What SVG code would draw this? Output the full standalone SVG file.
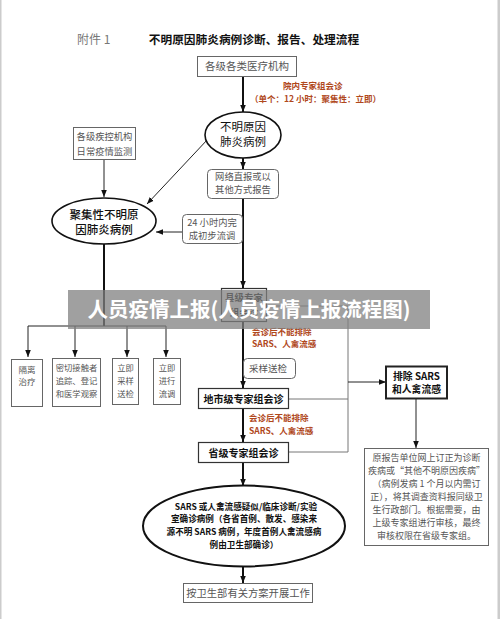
<svg xmlns="http://www.w3.org/2000/svg" width="500" height="619" viewBox="0 0 500 619">
<style>
.bx{fill:#fff;stroke:#666;stroke-width:1}
.bxb{fill:#fff;stroke:#333;stroke-width:1.2}
.el{fill:#fff;stroke:#111;stroke-width:1.6}
.g{font-family:"Noto Sans CJK SC","Noto Sans",sans-serif;fill:#555}
.k{font-family:"Noto Sans CJK SC","Noto Sans",sans-serif;fill:#111}
.kb{font-family:"Noto Sans CJK SC","Noto Sans",sans-serif;fill:#111;font-weight:bold}
.r{font-family:"Noto Sans CJK SC","Noto Sans",sans-serif;fill:#b0481c;font-weight:bold;font-size:8.5px}
.ov{font-family:"Noto Sans CJK SC","Noto Sans",sans-serif;fill:#fff;font-weight:bold}
.ln{stroke:#222;stroke-width:1;fill:none}
.lt{stroke:#111;stroke-width:2;fill:none}
.lg{stroke:#777;stroke-width:1;fill:none}
</style>
<defs>
<marker id="ah" viewBox="0 0 10 10" refX="10" refY="5" markerWidth="7" markerHeight="7" markerUnits="userSpaceOnUse" orient="auto">
<path d="M0,1 L10,5 L0,9 z" fill="#111"/>
</marker>
</defs>
<rect x="0" y="0" width="500" height="619" fill="#fff"/>
<rect x="0" y="0" width="1.5" height="619" fill="#ccc"/>
<rect x="497.5" y="0" width="2.5" height="619" fill="#ccc"/>

<g id="title">
<text x="77" y="43.5" class="g" font-size="12" style="fill:#777">附件 1</text>
<text x="254" y="43.5" class="kb" font-size="11.7" text-anchor="middle">不明原因肺炎病例诊断、报告、处理流程</text>
</g>

<g id="connectors">
<line class="lt" x1="243" y1="76" x2="243" y2="112" marker-end="url(#ah)"/>
<line class="lt" x1="243" y1="158" x2="243" y2="169" marker-end="url(#ah)"/>
<line class="ln" x1="104" y1="159" x2="104" y2="197" marker-end="url(#ah)"/>
<line class="ln" x1="208" y1="139" x2="147" y2="204" marker-end="url(#ah)"/>
<line class="ln" x1="182" y1="232" x2="156" y2="232" marker-end="url(#ah)"/>
<line class="lt" x1="243" y1="198" x2="243" y2="288" marker-end="url(#ah)"/>
<line class="lt" x1="104" y1="244" x2="104" y2="326"/>
<line class="ln" x1="28" y1="326" x2="166" y2="326" stroke-width="1.3"/>
<line class="ln" x1="28" y1="326" x2="28" y2="357" stroke-width="1.3" marker-end="url(#ah)"/>
<line class="ln" x1="75" y1="326" x2="75" y2="357" stroke-width="1.3" marker-end="url(#ah)"/>
<line class="ln" x1="127" y1="326" x2="127" y2="357" stroke-width="1.3" marker-end="url(#ah)"/>
<line class="ln" x1="166" y1="326" x2="166" y2="357" stroke-width="1.3" marker-end="url(#ah)"/>
<line class="lt" x1="243" y1="321" x2="243" y2="388" marker-end="url(#ah)"/>
<polyline class="lg" points="266,306 348,306 348,452 288,452"/>
<line class="lg" x1="288" y1="399" x2="348" y2="399"/>
<line class="ln" x1="348" y1="382" x2="386" y2="382" marker-end="url(#ah)"/>
<line class="ln" x1="416" y1="399" x2="416" y2="448" marker-end="url(#ah)"/>
<line class="lt" x1="243" y1="408" x2="243" y2="442" marker-end="url(#ah)"/>
<line class="lt" x1="243" y1="462" x2="243" y2="486" marker-end="url(#ah)"/>
<line class="lt" x1="243" y1="567" x2="243" y2="583" marker-end="url(#ah)"/>
</g>

<g id="n-hospitals">
<rect class="bx" x="197.5" y="56.5" width="99" height="20"/>
<text x="247" y="70" class="g" font-size="10.5" text-anchor="middle">各级各类医疗机构</text>
</g>

<g id="lbl-consult1">
<text x="283" y="89" class="r">院内专家组会诊</text>
<text x="250" y="102" class="r">（单个：12 小时：聚集性：立即）</text>
</g>

<g id="n-unknown">
<ellipse class="el" cx="243" cy="135" rx="38" ry="23"/>
<text x="243" y="131" class="k" font-size="11.5" text-anchor="middle">不明原因</text>
<text x="243" y="146" class="k" font-size="11.5" text-anchor="middle">肺炎病例</text>
</g>

<g id="n-cdc">
<rect class="bx" x="73.5" y="127.5" width="62" height="32"/>
<text x="104.5" y="139.5" class="g" font-size="9.3" text-anchor="middle">各级疾控机构</text>
<text x="104.5" y="154.5" class="g" font-size="9.3" text-anchor="middle">日常疫情监测</text>
</g>

<g id="n-report">
<rect class="bx" x="207.5" y="169.5" width="71" height="29" rx="4"/>
<text x="243" y="180" class="g" font-size="9.3" text-anchor="middle">网络直报或以</text>
<text x="243" y="192.5" class="g" font-size="9.3" text-anchor="middle">其他方式报告</text>
</g>

<g id="n-cluster">
<ellipse class="el" cx="104" cy="221" rx="52" ry="23"/>
<text x="104" y="219" class="k" font-size="11.5" font-weight="500" text-anchor="middle">聚集性不明原</text>
<text x="104" y="234" class="k" font-size="11.5" font-weight="500" text-anchor="middle">因肺炎病例</text>
</g>

<g id="n-24h">
<rect class="bx" x="182.5" y="214.5" width="60" height="29" rx="4"/>
<text x="212" y="226" class="g" font-size="9.3" text-anchor="middle">24 小时内完</text>
<text x="212" y="238.5" class="g" font-size="9.3" text-anchor="middle">成初步流调</text>
</g>

<g id="n-isolate">
<rect class="bx" x="11.5" y="359.5" width="31" height="47"/>
<text x="27" y="373" class="g" font-size="8.5" text-anchor="middle">隔离</text>
<text x="27" y="385" class="g" font-size="8.5" text-anchor="middle">治疗</text>
</g>
<g id="n-contacts">
<rect class="bx" x="52.5" y="358.5" width="48" height="48"/>
<text x="76.5" y="371" class="g" font-size="8.3" text-anchor="middle">密切接触者</text>
<text x="76.5" y="384" class="g" font-size="8.3" text-anchor="middle">追踪、登记</text>
<text x="76.5" y="397" class="g" font-size="8.3" text-anchor="middle">和医学观察</text>
</g>
<g id="n-sample">
<rect class="bx" x="112.5" y="358.5" width="26" height="46"/>
<text x="125.5" y="371" class="g" font-size="8.3" text-anchor="middle">立即</text>
<text x="125.5" y="384" class="g" font-size="8.3" text-anchor="middle">采样</text>
<text x="125.5" y="397" class="g" font-size="8.3" text-anchor="middle">送检</text>
</g>
<g id="n-survey">
<rect class="bx" x="153.5" y="358.5" width="27" height="46"/>
<text x="167" y="371" class="g" font-size="8.3" text-anchor="middle">立即</text>
<text x="167" y="384" class="g" font-size="8.3" text-anchor="middle">进行</text>
<text x="167" y="397" class="g" font-size="8.3" text-anchor="middle">流调</text>
</g>

<g id="n-county">
<rect class="bxb" x="221.5" y="288.5" width="45" height="33"/>
<text x="244" y="301" class="kb" font-size="9.5" text-anchor="middle">县级专家</text>
<text x="244" y="316" class="kb" font-size="9.5" text-anchor="middle">组会诊</text>
</g>

<g id="lbl-consult2">
<text x="252" y="335" class="r">会诊后不能排除</text>
<text x="252" y="347" class="r">SARS、人禽流感</text>
</g>

<g id="n-sampling">
<rect class="bx" x="243.5" y="358.5" width="52" height="20" rx="4"/>
<text x="249" y="372" class="g" font-size="9.5">采样送检</text>
</g>

<g id="n-city">
<rect class="bxb" x="198.5" y="388.5" width="90" height="20"/>
<text x="243.5" y="402.5" class="kb" font-size="10" text-anchor="middle">地市级专家组会诊</text>
</g>

<g id="n-exclude">
<rect x="386" y="366.5" width="61" height="32" fill="#fff" stroke="#222" stroke-width="2"/>
<text x="416.5" y="379.5" class="kb" font-size="9.8" text-anchor="middle">排除 SARS</text>
<text x="416.5" y="393" class="kb" font-size="9.8" text-anchor="middle">和人禽流感</text>
</g>

<g id="lbl-consult3">
<text x="249" y="421" class="r">会诊后不能排除</text>
<text x="249" y="434" class="r">SARS、人禽流感</text>
</g>

<g id="n-province">
<rect class="bxb" x="198.5" y="442.5" width="90" height="20"/>
<text x="243.5" y="456.5" class="kb" font-size="10" text-anchor="middle">省级专家组会诊</text>
</g>

<g id="n-note">
<rect class="bx" x="364.5" y="448.5" width="124" height="97"/>
<g class="g" font-size="9" text-anchor="middle">
<text x="426.5" y="461">原报告单位网上订正为诊断</text>
<text x="426.5" y="474">疾病或“其他不明原因疾病”</text>
<text x="426.5" y="487">（病例发病 1 个月以内需订</text>
<text x="426.5" y="500">正），将其调查资料报同级卫</text>
<text x="426.5" y="513">生行政部门。根据需要，由</text>
<text x="426.5" y="526">上级专家组进行审核，最终</text>
<text x="426.5" y="538.5">审核权限在省级专家组。</text>
</g>
</g>

<g id="n-confirm">
<ellipse cx="244" cy="526" rx="101" ry="40.5" fill="#fff" stroke="#111" stroke-width="2"/>
<g class="kb" font-size="8.6" text-anchor="middle">
<text x="246" y="509.5">SARS 或人禽流感疑似/临床诊断/实验</text>
<text x="244" y="522">室确诊病例（各省首例、散发、感染来</text>
<text x="244" y="535">源不明 SARS 病例，年度首例人禽流感病</text>
<text x="244" y="547.5">例由卫生部确诊）</text>
</g>
</g>

<g id="n-work">
<rect class="bx" x="183.5" y="583.5" width="129" height="19"/>
<text x="248" y="597" class="g" font-size="10.3" text-anchor="middle">按卫生部有关方案开展工作</text>
</g>

<g id="overlay">
<rect x="68" y="290" width="362" height="39" fill="#808080" fill-opacity="0.75"/>
<text x="249" y="317" class="ov" font-size="20.5" text-anchor="middle">人员疫情上报(人员疫情上报流程图)</text>
</g>
</svg>
